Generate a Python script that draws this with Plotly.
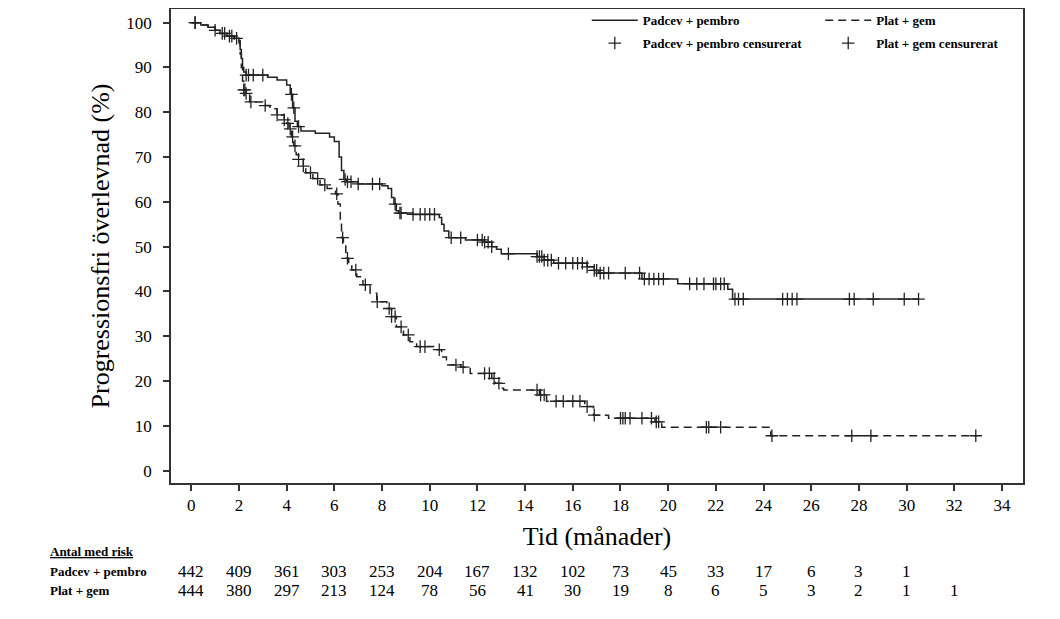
import numpy as np
import plotly.graph_objects as go

# Padcev + pembro, KM steps (time in months, survival %)
pad_t = [0, 0.4, 0.7, 1.0, 1.2, 1.5, 1.8, 2.0, 2.05, 2.1, 2.15, 2.2, 2.3, 3.2, 3.6, 4.0,
         4.15, 4.25, 4.35, 4.45, 4.6, 5.2, 5.8, 6.0, 6.2, 6.3, 6.4, 6.5, 7.0, 8.0, 8.25,
         8.4, 8.5, 8.6, 8.7, 9.3, 10.4, 10.5, 10.6, 10.8, 11.5, 12.3, 12.6, 12.8, 13.0,
         14.5, 14.8, 15.2, 16.6, 16.9, 17.1, 18.9, 20.4, 22.5, 22.7, 30.5]
pad_s = [100, 99.5, 99, 98.3, 97.6, 97, 96.5, 96, 94, 92, 90, 89, 88.3, 87.8, 87.2, 86.1,
         84, 81, 78, 76.8, 75.8, 75.3, 74.5, 73.5, 70, 67, 65, 64.5, 64, 63.6, 63,
         61, 59.5, 58, 57.5, 57.2, 56.5, 55, 53.5, 52, 51.5, 51, 50, 49.4, 48.4,
         47.8, 47, 46.3, 45.5, 44.7, 44.1, 42.8, 41.7, 40.5, 38.3, 38.3]
pad_cens = [0.16, 1.0, 1.4, 1.7, 1.9, 2.3, 2.4, 2.6, 3.0, 4.2, 4.3, 4.5, 6.45, 6.55, 6.7,
            7.0, 7.6, 7.9, 8.55, 8.75, 8.8, 9.3, 9.6, 9.8, 10.0, 10.2, 10.9, 11.3, 12.0,
            12.2, 12.3, 12.45, 12.6, 13.3, 14.5, 14.6, 14.7, 14.8, 14.95, 15.1, 15.4, 15.7,
            16.0, 16.2, 16.4, 16.6, 16.9, 17.0, 17.15, 17.3, 17.5, 18.2, 18.8, 19.0, 19.2,
            19.4, 19.6, 19.8, 20.9, 21.2, 21.5, 21.9, 22.0, 22.2, 22.35, 22.8, 22.95, 23.15,
            24.8, 25.0, 25.2, 25.4, 27.6, 27.8, 28.6, 29.9, 30.5]

# Plat + gem
plat_t = [0, 0.4, 0.7, 1.0, 1.2, 1.5, 1.8, 2.0, 2.05, 2.1, 2.15, 2.2, 2.3, 2.45, 3.0, 3.3,
          3.6, 3.9, 4.0, 4.1, 4.2, 4.3, 4.4, 4.5, 4.7, 4.8, 5.1, 5.4, 5.7, 6.05, 6.15,
          6.25, 6.3, 6.38, 6.48, 6.6, 6.73, 6.94, 7.2, 7.5, 7.78, 8.2, 8.4, 8.6, 8.9, 9.17,
          9.45, 10.3, 10.5, 10.7, 11.3, 11.7, 12.6, 12.75, 13.0, 13.1, 14.6, 14.9, 16.5,
          16.87, 17.5, 19.45, 19.73, 24.3, 32.95]
plat_s = [100, 99.5, 99, 98.3, 97.6, 97, 96.3, 95.5, 93, 90, 87, 85, 84.2, 82.3, 81.5, 80.8,
          79.4, 78.3, 77.5, 76.3, 74.5, 72.5, 70.5, 69.5, 68, 66.5, 65.2, 63.8, 63.0, 61.8, 59.5,
          56, 52, 50.4, 47.4, 46, 44.8, 43.3, 41.5, 39.6, 37.7, 36.2, 34.4, 32.1, 30.3, 28.8,
          27.7, 27.0, 25.4, 23.6, 23.1, 21.7, 20.6, 19.5, 18.4, 18.0, 16.9, 15.5, 14.3,
          12.4, 11.7, 10.9, 9.7, 7.8, 7.8]
plat_cens = [0.16, 1.3, 1.6, 2.2, 2.25, 2.3, 2.5, 3.1, 3.6, 3.9, 4.05, 4.15, 4.25, 4.35, 4.5,
             4.7, 5.0, 5.3, 5.6, 6.1, 6.35, 6.55, 6.9, 7.3, 7.8, 8.3, 8.4, 8.55, 8.8, 9.1,
             9.6, 9.8, 10.4, 11.1, 11.4, 12.3, 12.5, 12.7, 12.9, 14.5, 14.65, 14.8, 15.3,
             15.6, 16.0, 16.3, 16.6, 16.9, 18.0, 18.1, 18.2, 18.4, 18.9, 19.3, 19.5, 19.6,
             21.6, 21.7, 22.2, 24.35, 27.7, 28.5, 32.9]

risk_times = [0, 2, 4, 6, 8, 10, 12, 14, 16, 18, 20, 22, 24, 26, 28, 30, 32]
risk_pad = [442, 409, 361, 303, 253, 204, 167, 132, 102, 73, 45, 33, 17, 6, 3, 1]
risk_plat = [444, 380, 297, 213, 124, 78, 56, 41, 30, 19, 8, 6, 5, 3, 2, 1, 1]


def at(times, surv, pts):
    idx = np.searchsorted(times, pts, side="right") - 1
    return [surv[i] for i in idx]


FONT = "Liberation Serif"
INK = "#222222"
cross = dict(symbol="cross-thin", size=9, line=dict(color=INK, width=1.3))

fig = go.Figure()
fig.add_trace(go.Scatter(x=pad_t, y=pad_s, mode="lines", line_shape="hv",
                         line=dict(color=INK, width=1.5), name="Padcev + pembro",
                         legend="legend", legendgroup="a"))
fig.add_trace(go.Scatter(x=plat_t, y=plat_s, mode="lines", line_shape="hv",
                         line=dict(color=INK, width=1.5, dash="8px,5px"), name="Plat + gem",
                         legend="legend2", legendgroup="b"))
fig.add_trace(go.Scatter(x=pad_cens, y=at(pad_t, pad_s, pad_cens), mode="markers",
                         marker=cross, name="Padcev + pembro censurerat",
                         legend="legend", legendgroup="c"))
fig.add_trace(go.Scatter(x=plat_cens, y=at(plat_t, plat_s, plat_cens), mode="markers",
                         marker=cross, name="Plat + gem censurerat",
                         legend="legend2", legendgroup="d"))

# number at risk table
ROW0, ROW1, ROW2 = -0.1435, -0.1857, -0.2278
ann = [dict(text="<b><u>Antal med risk</u></b>", x=-0.1444, y=ROW0),
       dict(text="<b>Padcev + pembro</b>", x=-0.1444, y=ROW1),
       dict(text="<b>Plat + gem</b>", x=-0.1444, y=ROW2)]
for a in ann:
    a.update(xref="paper", yref="paper", xanchor="left", yanchor="middle", showarrow=False,
             font=dict(family=FONT, size=13, color="black"))
for t, n in zip(risk_times, risk_pad):
    ann.append(dict(text=str(n), x=t, y=ROW1, xref="x", yref="paper", showarrow=False,
                    yanchor="middle", font=dict(family=FONT, size=17, color="black")))
for t, n in zip(risk_times, risk_plat):
    ann.append(dict(text=str(n), x=t, y=ROW2, xref="x", yref="paper", showarrow=False,
                    yanchor="middle", font=dict(family=FONT, size=17, color="black")))

leg = dict(yanchor="top", xanchor="left", y=1.008, bgcolor="rgba(0,0,0,0)",
           font=dict(family=FONT, size=13, color="black", weight="bold"),
           tracegroupgap=3, itemwidth=46)

# page body keeps an 8px margin, so the figure is 8px smaller and shifted
fig.update_layout(
    width=1052, height=611,
    margin=dict(l=163, r=37, t=1, b=136, autoexpand=False),
    paper_bgcolor="white", plot_bgcolor="white",
    font=dict(family=FONT, color="black"),
    legend=dict(leg, x=0.488),
    legend2=dict(leg, x=0.762),
    annotations=ann,
    xaxis=dict(range=[-0.85, 34.88], tickvals=list(range(0, 35, 2)), showgrid=False,
               zeroline=False, showline=True, mirror=True, linecolor="#333", linewidth=1.5,
               ticks="outside", ticklen=6, tickwidth=1.5, tickcolor="#333",
               tickfont=dict(family=FONT, size=17, color="black"),
               title=dict(text="Tid (månader)", standoff=13,
                          font=dict(family=FONT, size=26, color="black"))),
    yaxis=dict(range=[-2.75, 103.05], tickvals=list(range(0, 101, 10)), showgrid=False,
               zeroline=False, showline=True, mirror=True, linecolor="#333", linewidth=1.5,
               ticks="outside", ticklen=6, tickwidth=1.5, tickcolor="#333",
               ticklabelstandoff=8,
               tickfont=dict(family=FONT, size=17, color="black"),
               title=dict(text="Progressionsfri överlevnad (%)", standoff=9,
                          font=dict(family=FONT, size=26, color="black"))),
)

fig.write_html("out.html")
